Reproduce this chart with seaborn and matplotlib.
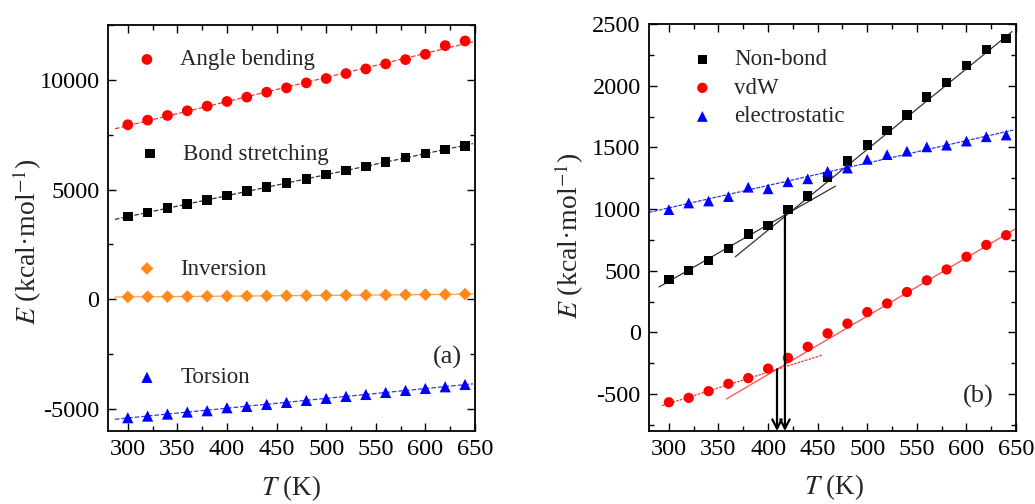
import numpy as np
import pandas as pd
import matplotlib
matplotlib.use("Agg")
import matplotlib.pyplot as plt
import seaborn as sns
from matplotlib.ticker import MultipleLocator

# ---------------- data ----------------
T = [300, 320, 340, 360, 380, 400, 420, 440, 460, 480,
     500, 520, 540, 560, 580, 600, 620, 640]

# panel (a)
angle_bending = [7955, 8166, 8378, 8591, 8803, 9015, 9212, 9439, 9636, 9863,
                 10060, 10287, 10499, 10726, 10923, 11166, 11560, 11772]
bond_stretching = [3772, 3954, 4151, 4348, 4530, 4727, 4924, 5105, 5287, 5484,
                   5681, 5863, 6060, 6257, 6469, 6651, 6833, 6999]
inversion = [110, 120, 125, 130, 140, 145, 150, 160, 165, 170,
             180, 185, 195, 200, 210, 215, 225, 240]
torsion = [-5393, -5318, -5227, -5136, -5075, -4939, -4878, -4787, -4696, -4605,
           -4514, -4423, -4333, -4242, -4151, -4060, -3984, -3878]
fit_T_range_a = [287, 648]

# panel (b)
non_bond = [428, 504, 583, 681, 798, 864, 995, 1106, 1259, 1390,
            1518, 1638, 1763, 1908, 2027, 2166, 2294, 2384]
vdw = [-567, -531, -477, -417, -371, -294, -207, -117, -8, 71,
       164, 234, 327, 422, 510, 613, 709, 788]
electrostatic = [995, 1049, 1065, 1101, 1177, 1164, 1221, 1245, 1305, 1332,
                 1403, 1441, 1469, 1504, 1518, 1551, 1586, 1600]

nonbond_fit_low_T = [290, 468]
nonbond_fit_low_E = [368, 1186]
nonbond_fit_high_T = [367, 646]
nonbond_fit_high_E = [613, 2439]
vdw_fit_low_T = [293, 454]
vdw_fit_low_E = [-594, -186]
vdw_fit_high_T = [358, 650]
vdw_fit_high_E = [-540, 842]
elec_fit_T = [280, 647]
elec_fit_E = [973, 1640]

arrow_T = [417, 409]
arrow_E_top = [950, -300]

# ---------------- style ----------------
sns.set_theme(style="ticks")
plt.rcParams["font.family"] = ["Liberation Serif", "DejaVu Serif"]
plt.rcParams["mathtext.fontset"] = "stix"
plt.rcParams["axes.unicode_minus"] = False
plt.rcParams["axes.edgecolor"] = "black"
plt.rcParams["axes.linewidth"] = 1.3

RED = "#ff0000"
BLACK = "#000000"
ORANGE = "#ff8a1c"
BLUE = "#0000ff"

TICK_FS = 17.5
LEG_FS = 16.5
LAB_FS = 20

fig = plt.figure(figsize=(10.35, 5.04), dpi=100)
axa = fig.add_axes([0.1043, 0.1448, 0.3546, 0.8056])
axb = fig.add_axes([0.6271, 0.1448, 0.3546, 0.8075])

df_a = pd.DataFrame({"T": T, "angle": angle_bending, "bond": bond_stretching,
                     "inv": inversion, "tor": torsion})
df_b = pd.DataFrame({"T": T, "nb": non_bond, "vdw": vdw, "el": electrostatic})

# ---------------- panel (a) ----------------
series_a = [
    ("angle", "Angle bending", RED, "o", 60, "--"),
    ("bond", "Bond stretching", BLACK, "s", 48, "--"),
    ("inv", "Inversion", ORANGE, "D", 42, "-"),
    ("tor", "Torsion", BLUE, "^", 65, "--"),
]
xf = np.array(fit_T_range_a, dtype=float)
for col, lab, c, m, s, ls in series_a:
    k, b = np.polyfit(df_a["T"], df_a[col], 1)
    sns.lineplot(x=xf, y=k * xf + b, ax=axa, color=c, lw=0.9, linestyle=ls,
                 alpha=0.8, legend=False)
for col, lab, c, m, s, ls in series_a:
    sns.scatterplot(data=df_a, x="T", y=col, ax=axa, color=c, marker=m, s=s,
                    edgecolor="none", label=lab, zorder=3)

handles, labels = axa.get_legend_handles_labels()
leg_pos_a = [(0.075, 0.914), (0.083, 0.682), (0.075, 0.399), (0.075, 0.131)]
legs = []
for h, l, pos in zip(handles, labels, leg_pos_a):
    lg = axa.legend([h], [l], loc="center left", bbox_to_anchor=pos,
                    frameon=False, fontsize=LEG_FS, handlelength=1.0,
                    handletextpad=0.95, borderpad=0, borderaxespad=0)
    legs.append(lg)
for lg in legs[:-1]:
    axa.add_artist(lg)

axa.text(0.965, 0.182, "(a)", transform=axa.transAxes, ha="right",
         va="center", fontsize=19)
axa.set_xlim(280, 650)
axa.set_ylim(-6000, 12500)
axa.xaxis.set_major_locator(MultipleLocator(50))
axa.xaxis.set_minor_locator(MultipleLocator(25))
axa.yaxis.set_major_locator(MultipleLocator(5000))
axa.yaxis.set_minor_locator(MultipleLocator(2500))

# ---------------- panel (b) ----------------
sns.lineplot(x=nonbond_fit_low_T, y=nonbond_fit_low_E, ax=axb, color="#333333",
             lw=0.9, legend=False)
sns.lineplot(x=nonbond_fit_high_T, y=nonbond_fit_high_E, ax=axb, color="#333333",
             lw=0.9, legend=False)
sns.lineplot(x=vdw_fit_low_T, y=vdw_fit_low_E, ax=axb, color=RED, lw=0.9,
             linestyle=(0, (2, 1)), alpha=0.8, legend=False)
sns.lineplot(x=vdw_fit_high_T, y=vdw_fit_high_E, ax=axb, color=RED, lw=0.9,
             alpha=0.7, legend=False)
sns.lineplot(x=elec_fit_T, y=elec_fit_E, ax=axb, color=BLUE, lw=0.9,
             linestyle=(0, (3, 1)), alpha=0.8, legend=False)

sns.scatterplot(data=df_b, x="T", y="nb", ax=axb, color=BLACK, marker="s", s=45,
                edgecolor="none", label="Non-bond", zorder=3)
sns.scatterplot(data=df_b, x="T", y="vdw", ax=axb, color=RED, marker="o", s=55,
                edgecolor="none", label="vdW", zorder=3)
sns.scatterplot(data=df_b, x="T", y="el", ax=axb, color=BLUE, marker="^", s=60,
                edgecolor="none", label="electrostatic", zorder=3)

axb.set_xlim(280, 650)
axb.set_ylim(-800, 2500)
for xt, yt in zip(arrow_T, arrow_E_top):
    axb.annotate("", xy=(xt, -800), xytext=(xt, yt),
                 arrowprops=dict(arrowstyle="->,head_length=0.55,head_width=0.28",
                                 color="black", lw=1.6, shrinkA=0, shrinkB=0),
                 zorder=4)

axb.legend(loc="center left", bbox_to_anchor=(0.114, 0.842), frameon=False,
           fontsize=LEG_FS, handlelength=1.0, handletextpad=0.9, borderpad=0,
           borderaxespad=0, labelspacing=0.33)
axb.text(0.938, 0.084, "(b)", transform=axb.transAxes, ha="right",
         va="center", fontsize=19)
axb.xaxis.set_major_locator(MultipleLocator(50))
axb.xaxis.set_minor_locator(MultipleLocator(25))
axb.yaxis.set_major_locator(MultipleLocator(500))
axb.yaxis.set_minor_locator(MultipleLocator(250))

# ---------------- common ----------------
for ax in (axa, axb):
    ax.set_xlabel("$T$ (K)", fontsize=19.5, va="center")
    ax.set_ylabel("$E$ (kcal\u00b7mol$^{-1}$)", fontsize=LAB_FS)
    ax.tick_params(which="both", direction="in", top=True, right=True,
                   colors="black", labelsize=TICK_FS, width=1.0, pad=6)
    ax.tick_params(which="major", length=6)
    ax.tick_params(which="minor", length=3.5)
    for sp in ax.spines.values():
        sp.set_visible(True)
        sp.set_color("black")
        sp.set_linewidth(1.3)

axa.xaxis.set_label_coords(0.50, -0.140)
axb.xaxis.set_label_coords(0.504, -0.137)
axa.yaxis.set_label_coords(-0.175, 0.466)
axb.yaxis.set_label_coords(-0.172, 0.479)

fig.savefig("out.png", dpi=100)
